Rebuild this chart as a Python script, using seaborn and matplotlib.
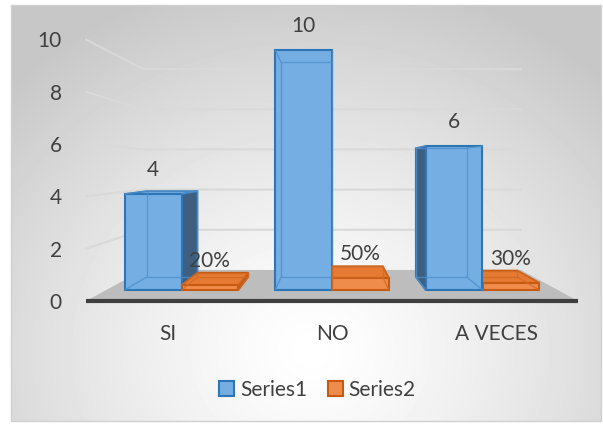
import numpy as np
import pandas as pd
import matplotlib
matplotlib.use('Agg')
import matplotlib.pyplot as plt
import seaborn as sns
from matplotlib.patches import Polygon, Patch, Rectangle

categories = ['SI', 'NO', 'A VECES']
series1 = [4, 10, 6]
series2 = [0.2, 0.5, 0.3]
series_names = ['Series1', 'Series2']
y_ticks = [0, 2, 4, 6, 8, 10]

# colours (front face, edge, dark side, top)
BLUE = '#74aee3'
BLUE_EDGE = '#2e75b6'
BLUE_INNER = '#4f8fcc'
BLUE_SIDE = '#3f5f80'
ORANGE = '#f08c4b'
ORANGE_EDGE = '#c55a11'
ORANGE_INNER = '#d06a24'
ORANGE_SIDE = '#b85a1c'
TEXT = '#404040'

# simple perspective: everything is scaled about a vanishing point (data units)
XV, YV = 1.0, 5.125
K_NEAR, K_BAR, K_BACK = 1.09, 0.894, 0.837


def proj(x, y, k):
    return XV + k * (x - XV), YV + k * (y - YV)


sns.set_style('white')
plt.rcParams['font.family'] = ['Lato', 'DejaVu Sans']

df = pd.DataFrame({
    'category': categories * 2,
    'series': [series_names[0]] * 3 + [series_names[1]] * 3,
    'value': series1 + series2,
})

fig = plt.figure(figsize=(6.03, 4.25), dpi=100)

# chart area background with a soft radial gradient
bg = fig.add_axes([0, 0, 1, 1])
bg.set_xlim(0, 603)
bg.set_ylim(425, 0)
bg.axis('off')
yy, xx = np.mgrid[0:425, 0:603]
d = np.hypot(xx - 310, (yy - 350) / 0.9)
shade = 1 - 0.22 * np.clip(d / 420, 0, 1) ** 1.3
inside = (xx >= 11) & (xx <= 601) & (yy >= 5) & (yy <= 421)
shade[~inside] = 1.0
bg.imshow(shade, cmap='gray', vmin=0, vmax=1, extent=(0, 603, 425, 0), aspect='auto')
bg.add_patch(Rectangle((11, 5), 590, 416, fill=False, ec='#d0d0d0', lw=1))

ax = fig.add_axes([106.25 / 603, 105 / 425, 451.5 / 603, 300 / 425])
ax.patch.set_alpha(0)

sns.barplot(data=df, x='category', y='value', hue='series', palette=[BLUE, ORANGE],
            width=0.755, errorbar=None, saturation=1, legend=False, ax=ax)
ax.set_xlim(-0.5, 2.5)
ax.set_ylim(-1.25, 11.25)

# walls: gridlines on the left wall and back wall
for v in y_ticks[1:]:
    n = proj(-0.5, v, K_NEAR)
    bl = proj(-0.5, v, K_BACK)
    br = proj(2.5, v, K_BACK)
    ax.plot([n[0], bl[0], br[0]], [n[1], bl[1], br[1]], color='#d9d9d9', lw=1.5,
            zorder=1, clip_on=False)

# floor
floor = [proj(-0.5, 0, K_NEAR), proj(-0.5, 0, K_BACK), proj(2.5, 0, K_BACK), proj(2.5, 0, K_NEAR)]
ax.add_patch(Polygon(floor, closed=True, fc='#bdbdbd', ec='none', zorder=2, clip_on=False))
nl, nr = proj(-0.5, 0, K_NEAR), proj(2.5, 0, K_NEAR)
ax.plot([nl[0], nr[0]], [nl[1], nr[1]], color='#3f3f3f', lw=3, zorder=2.5,
        solid_capstyle='butt', clip_on=False)

# 3d boxes built on top of the seaborn bars
styles = [(BLUE_EDGE, BLUE_INNER, BLUE_SIDE, BLUE), (ORANGE_EDGE, ORANGE_INNER, ORANGE_SIDE, '#e67a33')]
bars = []
for hi, cont in enumerate(ax.containers):
    for p in cont:
        bars.append((hi, p))
bars.sort(key=lambda b: -abs(b[1].get_x() + b[1].get_width() / 2 - XV))

for rank, (hi, p) in enumerate(bars):
    edge, inner, side, top = styles[hi]
    z = 3 + rank * 0.01
    x0 = p.get_x()
    x1 = x0 + p.get_width()
    h = p.get_height()
    bk = {c: proj(c[0], c[1], K_BAR) for c in [(x0, 0), (x1, 0), (x1, h), (x0, h)]}

    if x1 < XV - 1e-6:
        pts = [(x1, 0), (x1, h), bk[(x1, h)], bk[(x1, 0)]]
        ax.add_patch(Polygon(pts, fc=side, ec=edge, lw=1.2, zorder=z, clip_on=False))
    elif x0 > XV + 1e-6:
        pts = [(x0, 0), (x0, h), bk[(x0, h)], bk[(x0, 0)]]
        ax.add_patch(Polygon(pts, fc=side, ec=edge, lw=1.2, zorder=z, clip_on=False))
    if h < YV:
        pts = [(x0, h), (x1, h), bk[(x1, h)], bk[(x0, h)]]
        ax.add_patch(Polygon(pts, fc=top, ec=edge, lw=1.2, zorder=z, clip_on=False))

    p.set_edgecolor(edge)
    p.set_linewidth(1.5)
    p.set_zorder(z + 0.003)
    p.set_clip_on(False)

    back = [bk[(x0, 0)], bk[(x1, 0)], bk[(x1, h)], bk[(x0, h)], bk[(x0, 0)]]
    ax.plot([q[0] for q in back], [q[1] for q in back], color=inner, lw=1, alpha=0.8,
            zorder=z + 0.005, clip_on=False)
    for c in [(x0, 0), (x1, 0), (x1, h), (x0, h)]:
        ax.plot([c[0], bk[c][0]], [c[1], bk[c][1]], color=inner, lw=1, alpha=0.8,
                zorder=z + 0.005, clip_on=False)

ax.bar_label(ax.containers[0], labels=[f'{v:.0f}' for v in series1], padding=10,
             fontsize=15, color=TEXT, zorder=10)
ax.bar_label(ax.containers[1], labels=[f'{v:.0%}' for v in series2], padding=10,
             fontsize=15, color=TEXT, zorder=10)

ax.set_yticks([proj(0, v, K_NEAR)[1] for v in y_ticks], labels=[str(v) for v in y_ticks])
ax.set_xticks([proj(i, 0, K_NEAR)[0] for i in range(len(categories))], labels=categories)
ax.tick_params(axis='y', length=0, pad=32, labelsize=15, labelcolor=TEXT)
ax.tick_params(axis='x', length=0, pad=3, labelsize=15, labelcolor=TEXT)
ax.set_xlabel('')
ax.set_ylabel('')
for s in ax.spines.values():
    s.set_visible(False)

handles = [Patch(facecolor=BLUE, edgecolor=BLUE_EDGE, lw=1.5),
           Patch(facecolor=ORANGE, edgecolor=ORANGE_EDGE, lw=1.5)]
fig.legend(handles, series_names, loc='center', bbox_to_anchor=(317.5 / 603, 1 - 390 / 425),
           ncol=2, frameon=False, fontsize=15, handlelength=0.7, handleheight=0.7,
           handletextpad=0.3, columnspacing=1.0, labelcolor=TEXT)

fig.savefig('out.png', dpi=100)
